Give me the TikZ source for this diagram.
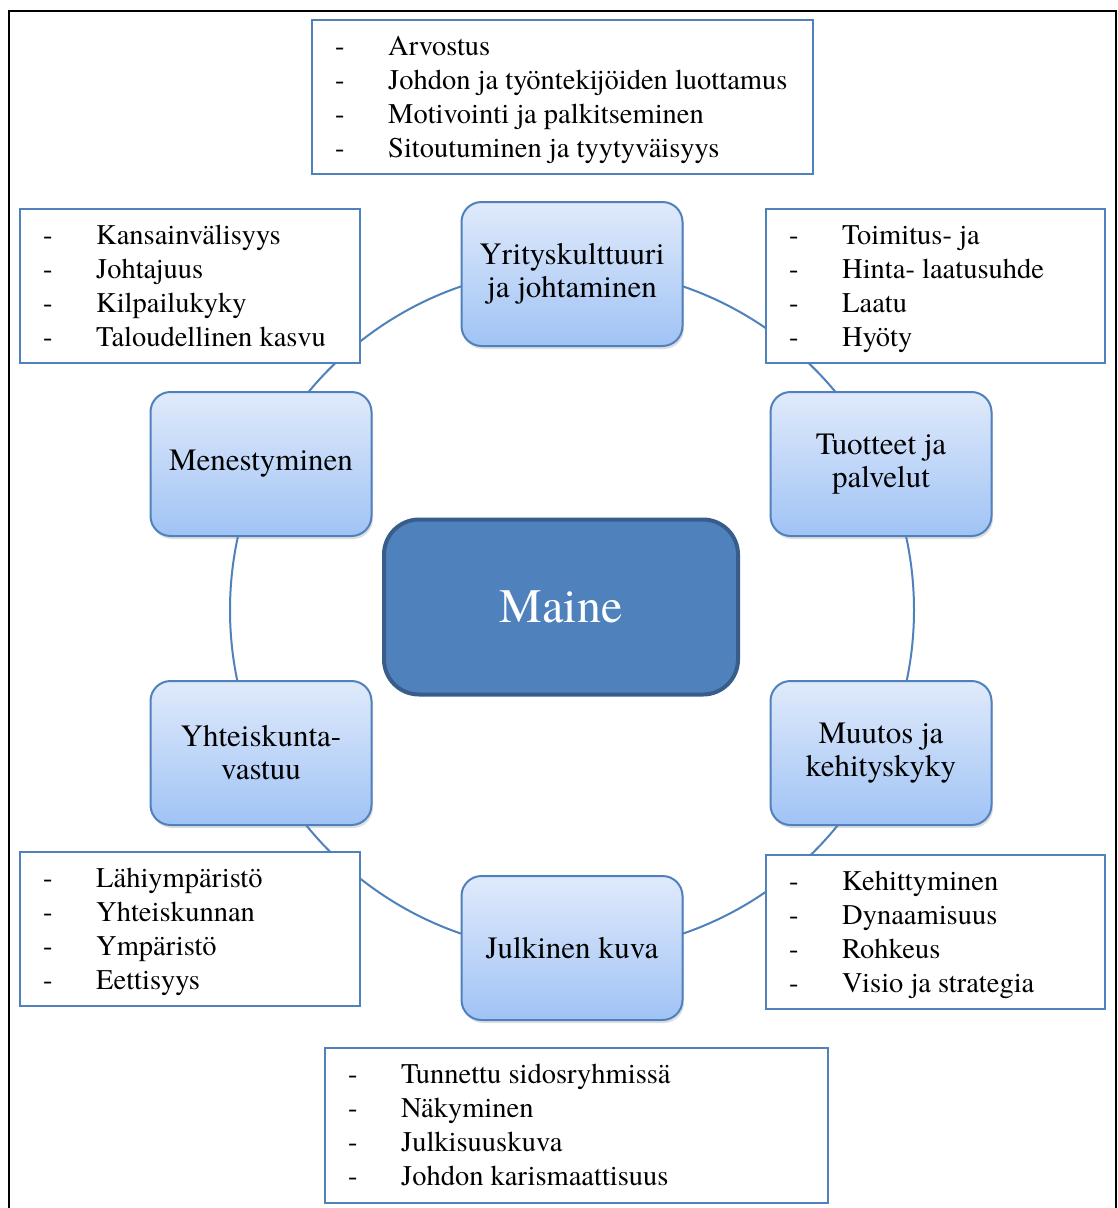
\documentclass[tikz,border=0pt]{standalone}
\usepackage{fontspec}
\setmainfont{TeX Gyre Termes}
\usetikzlibrary{shadows,calc}
\definecolor{acc}{RGB}{79,129,189}
\definecolor{accdark}{RGB}{56,93,138}
\definecolor{ntop}{RGB}{224,234,251}
\definecolor{nbot}{RGB}{160,195,245}
\tikzset{
  hub/.style={draw=acc, line width=2pt, rounded corners=20pt, top color=ntop, bottom color=nbot,
    minimum width=221pt, minimum height=144pt, align=center, inner sep=2pt,
    font=\fontsize{31}{33}\selectfont, text=black,
    drop shadow={opacity=0.25, shadow xshift=1.5pt, shadow yshift=-3pt}},
  core/.style={draw=accdark, line width=4pt, rounded corners=35pt, fill=acc,
    minimum width=354pt, minimum height=175pt, text=white, font=\fontsize{48}{54}\selectfont},
  listbox/.style={draw=acc, line width=2pt, fill=white, anchor=north west, inner sep=0pt},
  dashtxt/.style={anchor=base west, inner sep=0pt, font=\fontsize{28.5}{34}\selectfont},
  ring/.style={draw=acc, line width=2pt},
  frameline/.style={draw=black, line width=2.5pt}
}
\newcommand\bulletlist[2]{%
  \foreach \t [count=\i from 0] in {#2} {
    \node[dashtxt] (#1-d\i) at ($(#1.north west)+(24,{36+34.3*\i})$) {-};
    \node[dashtxt] (#1-t\i) at ($(#1.north west)+(77,{36+34.3*\i})$) {\t};
  }}
\begin{document}
\begin{tikzpicture}[x=1pt,y=-1pt]
\clip (0,0) rectangle (1117,1208);
\fill[white] (0,0) rectangle (1117,1208);
\draw[frameline] (9,11) rectangle (1116,1240);

\coordinate (ringc) at (572,610);
\draw[ring] (ringc) circle[radius=342pt];

% list boxes
\node[listbox, minimum width=501pt, minimum height=154pt] (bt) at (311,19) {};
\bulletlist{bt}{Arvostus, Johdon ja työntekijöiden luottamus, Motivointi ja palkitseminen, Sitoutuminen ja tyytyväisyys}
\node[listbox, minimum width=339pt, minimum height=154pt] (brt) at (765,208) {};
\bulletlist{brt}{Toimitus- ja, Hinta- laatusuhde, Laatu, Hyöty}
\node[listbox, minimum width=340pt, minimum height=154pt] (blt) at (19,208) {};
\bulletlist{blt}{Kansainvälisyys, Johtajuus, Kilpailukyky, Taloudellinen kasvu}
\node[listbox, minimum width=339pt, minimum height=154pt] (brb) at (765,854) {};
\bulletlist{brb}{Kehittyminen, Dynaamisuus, Rohkeus, Visio ja strategia}
\node[listbox, minimum width=340pt, minimum height=154pt] (blb) at (19,851) {};
\bulletlist{blb}{Lähiympäristö, Yhteiskunnan, Ympäristö, Eettisyys}
\node[listbox, minimum width=503pt, minimum height=155pt] (bb) at (324,1047) {};
\bulletlist{bb}{Tunnettu sidosryhmissä, Näkyminen, Julkisuuskuva, Johdon karismaattisuus}

% hub nodes
\node[hub] (yri) at (572,274) {Yrityskulttuuri\\ja johtaminen};
\node[hub] (tuo) at (881,464) {Tuotteet ja\\palvelut};
\node[hub] (muu) at (881,753) {Muutos ja\\kehityskyky};
\node[hub] (jul) at (572,948) {Julkinen kuva};
\node[hub] (yht) at (261,753) {Yhteiskunta-\\vastuu};
\node[hub] (men) at (261,464) {Menestyminen};

\node[core] (maine) at (561,607) {Maine};
\end{tikzpicture}
\end{document}
